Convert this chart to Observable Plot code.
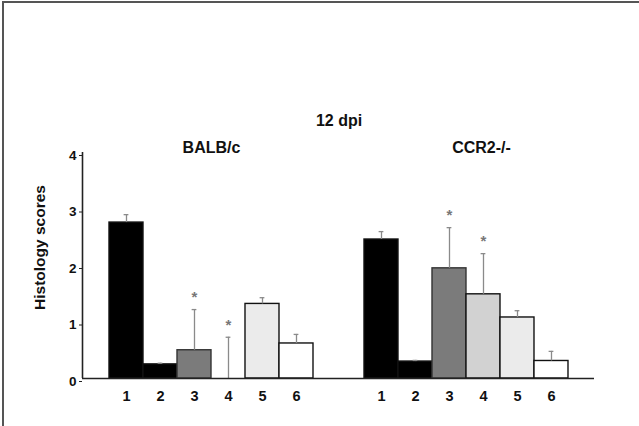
<!DOCTYPE html>
<html><head><meta charset="utf-8">
<script src="https://cdn.jsdelivr.net/npm/d3@7"></script>
<script src="https://cdn.jsdelivr.net/npm/@observablehq/plot@0.6"></script>
<style>
body{margin:0;background:#fff;}
#wrap{position:relative;width:639px;height:426px;overflow:hidden;background:#fff;}
#frame{position:absolute;left:2px;top:1px;right:-10px;bottom:-10px;border-top:2px solid #555;border-left:2px solid #555;pointer-events:none;}
</style></head><body><div id="wrap"><div id="chart"></div><div id="frame"></div></div>
<script>
// ---- data ----
const categories = ["1", "2", "3", "4", "5", "6"];
const groups = ["BALB/c", "CCR2-/-"];
const title = "12 dpi";
const yLabel = "Histology scores";
const yTicks = [0, 1, 2, 3, 4];
const balbMeans = [2.76, 0.25, 0.50, 0.00, 1.32, 0.62];
const balbErrors = [0.14, 0.02, 0.72, 0.73, 0.11, 0.16];
const balbSignificant = [false, false, true, true, false, false];
const ccr2Means = [2.46, 0.30, 1.95, 1.49, 1.08, 0.31];
const ccr2Errors = [0.14, 0.02, 0.72, 0.72, 0.12, 0.17];
const ccr2Significant = [false, false, true, true, false, false];
const fills = ["#000000", "#000000", "#7b7b7b", "#d2d2d2", "#ebebeb", "#ffffff"];

// ---- layout ----
const groupStart = {"BALB/c": 0, "CCR2-/-": 7.5};
const xMin = -0.794, xMax = 14.265;
const rows = [];
groups.forEach((g, gi) => {
  const means = gi === 0 ? balbMeans : ccr2Means;
  const errs = gi === 0 ? balbErrors : ccr2Errors;
  const sig = gi === 0 ? balbSignificant : ccr2Significant;
  categories.forEach((c, i) => rows.push({
    group: g, cat: c, pos: groupStart[g] + i, mean: means[i], err: errs[i],
    top: means[i] + errs[i], sig: sig[i], fill: fills[i]
  }));
});
const center = d => d.pos + 0.5;
const fontFamily = "'Liberation Sans', Arial, Helvetica, sans-serif";

const chart = Plot.plot({
  width: 639, height: 426,
  marginLeft: 82, marginRight: 45, marginTop: 152, marginBottom: 48,
  style: {fontFamily, fontWeight: "bold", color: "#111", background: "white", overflow: "visible"},
  x: {domain: [xMin, xMax], axis: null},
  y: {domain: [0, 4]},
  color: {type: "identity"},
  marks: [
    Plot.rectY(rows, {x1: "pos", x2: d => d.pos + 1, y: "mean", fill: d => d.fill,
      stroke: d => d.cat === "3" ? "#333" : "#111", strokeWidth: 1.4}),
    Plot.ruleX(rows, {x: center, y1: "mean", y2: "top", stroke: "#8a8a8a", strokeWidth: 1.3}),
    Plot.ruleY(rows, {y: "top", x1: d => center(d) - 0.07, x2: d => center(d) + 0.07, stroke: "#8a8a8a", strokeWidth: 1.3}),
    Plot.text(rows.filter(d => d.sig), {x: center, y: "top", text: () => "*", dy: -12,
      fill: "#777", fontSize: 15, fontWeight: "bold"}),
    Plot.ruleY([0], {stroke: "#222", strokeWidth: 1.6}),
    Plot.ruleX([xMin], {stroke: "#222", strokeWidth: 1.6}),
    Plot.axisY({ticks: yTicks, tickFormat: d3.format("d"), tickSize: 3, tickPadding: 3, fontSize: 13.5, dy: 3, label: null, stroke: "#222"}),
    Plot.text(rows, {x: center, text: "cat", frameAnchor: "bottom", dy: 22, fontSize: 14.5, fill: "#111"}),
    Plot.text([groups[0]], {x: groupStart[groups[0]] + 3, text: d => d, frameAnchor: "top", dy: -11, fontSize: 16, fill: "#111"}),
    Plot.text([groups[1]], {x: groupStart[groups[1]] + 3, text: d => d, frameAnchor: "top", dx: 15, dy: -11, fontSize: 16, fill: "#111"}),
    Plot.text([title], {x: (groupStart[groups[0]] + groupStart[groups[1]] + 6) / 2, text: d => d, frameAnchor: "top", dy: -38, fontSize: 16, fill: "#111"}),
    Plot.text([yLabel], {frameAnchor: "left", textAnchor: "middle", text: d => d, rotate: -90, dx: -42, dy: -18, fontSize: 15.5, fill: "#111"})
  ]
});
document.getElementById("chart").appendChild(chart);
</script></body></html>
